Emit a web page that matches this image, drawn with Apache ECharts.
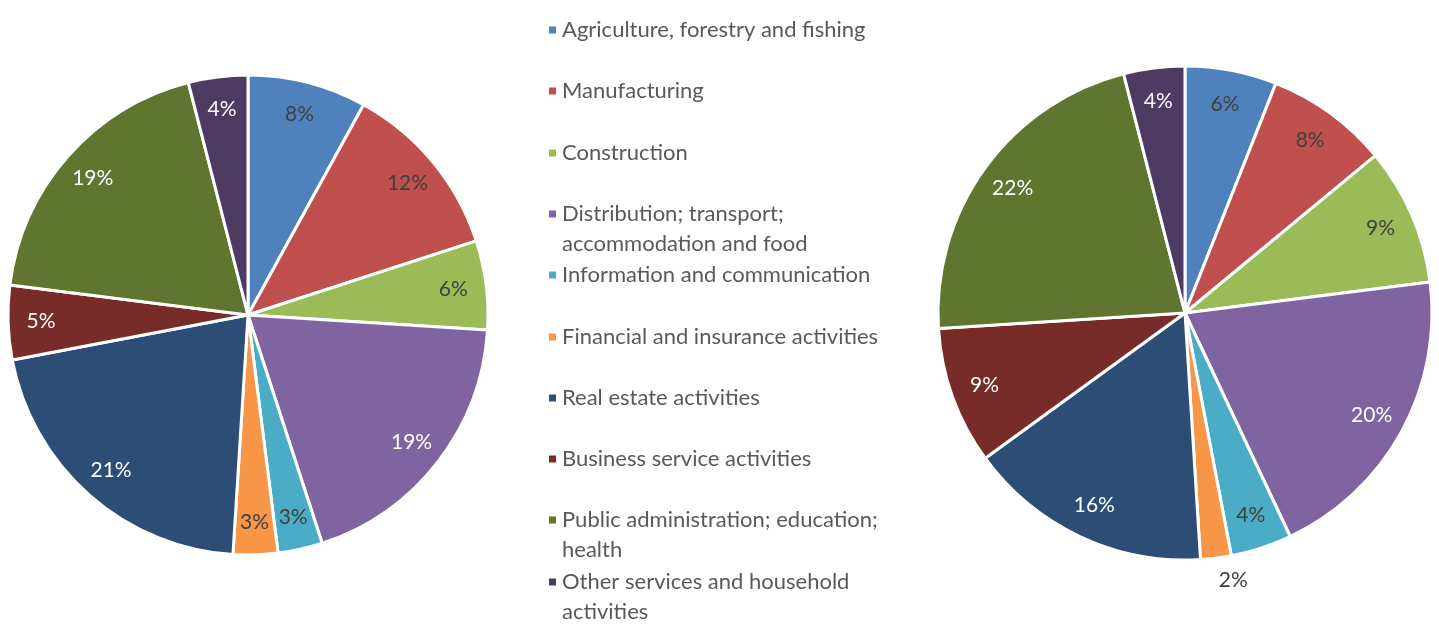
<!DOCTYPE html>
<html>
<head>
<meta charset="utf-8">
<script src="https://cdn.jsdelivr.net/npm/echarts@6/dist/echarts.min.js"></script>
<style>
  html, body { margin: 0; padding: 0; background: #fff; }
  #chart { width: 1439px; height: 630px; }
</style>
</head>
<body>
<div id="chart"></div>
<script>
// categories (legend order = slice order, clockwise from 12 o'clock)
var categories = [
  'Agriculture, forestry and fishing',
  'Manufacturing',
  'Construction',
  'Distribution; transport; accommodation and food',
  'Information and communication',
  'Financial and insurance activities',
  'Real estate activities',
  'Business service activities',
  'Public administration; education; health',
  'Other services and household activities'
];
// shares in %
var leftShares = [8, 12, 6, 19, 3, 3, 21, 5, 19, 4];
var rightShares = [6, 8, 9, 20, 4, 2, 16, 9, 22, 4];

// legend line breaks for the long names
var legendWrap = {
  'Distribution; transport; accommodation and food': ['Distribution; transport;', 'accommodation and food'],
  'Public administration; education; health': ['Public administration; education;', 'health'],
  'Other services and household activities': ['Other services and household', 'activities']
};

var sliceColors = ['#4F81BD', '#C0504D', '#9BBB59', '#8064A2', '#4BACC6',
                   '#F79646', '#2C4D75', '#772C2A', '#5F7530', '#4D3B62'];
var lightText = [false, false, false, true, false, false, true, true, true, true];

var FONT = 'Lato, "Open Sans", sans-serif';

var chart = echarts.init(document.getElementById('chart'));

// main slices
function pieSeries(values, center, r) {
  return {
    type: 'pie',
    center: center,
    radius: [0, r],
    startAngle: 90,
    clockwise: true,
    silent: true,
    animation: false,
    label: { show: false },
    labelLine: { show: false },
    emphasis: { disabled: true },
    itemStyle: { borderColor: '#fff', borderWidth: 3 },
    data: values.map(function (v, i) {
      return { name: categories[i], value: v, itemStyle: { color: sliceColors[i] } };
    })
  };
}

// transparent ring carrying the labels, so they sit near the rim like the original
function labelSeries(values, center, r, outsideIdx) {
  return {
    type: 'pie',
    center: center,
    radius: [Math.round(r * 0.7), r],
    startAngle: 90,
    clockwise: true,
    silent: true,
    animation: false,
    avoidLabelOverlap: false,
    emphasis: { disabled: true },
    itemStyle: { color: 'rgba(0,0,0,0)', borderWidth: 0 },
    label: {
      show: true,
      position: 'inside',
      formatter: '{c}%',
      fontFamily: FONT,
      fontSize: 21
    },
    labelLine: { show: false },
    data: values.map(function (v, i) {
      var item = {
        name: categories[i],
        value: v,
        label: { color: lightText[i] ? '#ffffff' : '#404040' }
      };
      if (i === outsideIdx) {
        item.label.position = 'outside';
        item.label.color = '#404040';
        item.label.distanceToLabelLine = 0;
        item.labelLine = { show: false, length: 22, length2: 0 };
      }
      return item;
    })
  };
}

var legends = categories.map(function (name, i) {
  var lines = legendWrap[name];
  var nLines = lines ? 3 : 1;
  var lh = 30;
  var cy = 30 + 61.3 * i;
  return {
    data: [name],
    orient: 'vertical',
    left: 547,
    top: Math.round(cy - nLines * lh / 2),
    padding: 0,
    icon: 'rect',
    itemWidth: 9,
    itemHeight: 9,
    selectedMode: false,
    formatter: function (n) {
      var l = legendWrap[n];
      return l ? '\n' + l[0] + '\n' + l[1] : n;
    },
    textStyle: {
      fontFamily: FONT,
      fontSize: 22,
      color: '#595959',
      lineHeight: lh
    }
  };
});

var option = {
  backgroundColor: '#fff',
  legend: legends,
  series: [
    pieSeries(leftShares, [248, 315], 240),
    pieSeries(rightShares, [1185, 313], 247),
    labelSeries(leftShares, [248, 315], 240, -1),
    labelSeries(rightShares, [1185, 313], 247, 5)
  ]
};

chart.setOption(option);
</script>
</body>
</html>
